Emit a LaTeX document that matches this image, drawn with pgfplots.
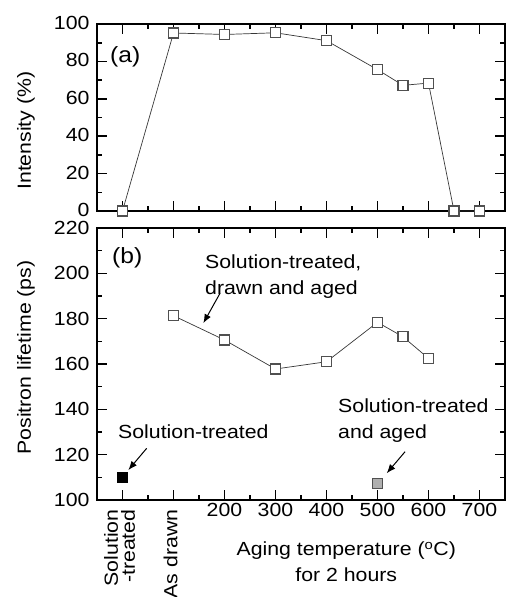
\documentclass[border=0pt]{standalone}
\usepackage{fontspec}
\setmainfont{Liberation Sans}[FakeStretch=1.12]
\usepackage{pgfplots}
\pgfplotsset{compat=1.18}
\usetikzlibrary{arrows.meta}

\definecolor{markgray}{RGB}{80,80,80}
\definecolor{linegray}{RGB}{55,55,55}
\definecolor{agedfill}{RGB}{175,175,175}

\newcommand\figfont{\fontsize{19}{26}\selectfont}

\tikzset{
  note/.style={font=\figfont, inner sep=0pt, anchor=north west, align=left},
  pointer/.style={-{Latex[length=9pt,width=7pt]}, line width=1pt, black},
}

\pgfplotsset{
  panel/.style={
    scale only axis,
    width=408pt,
    xmin=-50, xmax=750,
    tick align=inside,
    major tick length=10pt,
    minor tick length=5pt,
    axis line style={line width=2pt},
    every tick/.style={black, line width=1.6pt},
    minor xtick={50,150,...,650},
    /pgf/number format/assume math mode=true,
    tick label style={font=\figfont},
    yticklabel style={xshift=-4pt},
    label style={font=\figfont},
    clip=false,
  },
  opensq/.style={color=linegray, line width=0.7pt, mark=square*, mark size=5pt,
    mark options={draw=markgray, fill=white, line width=1.1pt}},
}

\begin{document}
\begin{tikzpicture}[font=\figfont]

% (a) intensity panel
\begin{axis}[panel, at={(97pt,-211pt)}, anchor=south west, height=187pt,
  ymin=0, ymax=100, ytick={0,20,...,100}, minor ytick={10,30,...,90},
  xtick={0,100,...,700}, xticklabels={},
  yticklabel style={yshift=1pt},
  ylabel={Intensity (\%)},
  ylabel style={at={(axis description cs:-0.174,0.43)}, anchor=center}]
\addplot[opensq] coordinates {
  (0,0) (100,95.2) (200,94.4) (300,95.3) (400,91.1)
  (500,75.6) (550,67.2) (600,68.4) (650,0) (700,0)};
\node[note, anchor=west, font=\fontsize{22}{26}\selectfont] at (axis cs:-24.5,82.4) {(a)};
\end{axis}

% (b) positron lifetime panel
\begin{axis}[panel, at={(97pt,-500pt)}, anchor=south west, height=272pt,
  ymin=100, ymax=220, ytick={100,120,...,220}, minor ytick={110,130,...,210},
  xtick={200,300,...,700},
  extra x ticks={0,100},
  extra x tick labels={{Solution\\-treated},{As drawn}},
  extra x tick style={tick label style={font=\fontsize{19}{17}\selectfont,
    xshift=-3pt, yshift=-6pt, rotate=90, anchor=east, align=right}},
  ylabel={Positron lifetime (ps)},
  ylabel style={at={(axis description cs:-0.174,0.524)}, anchor=center},
  xlabel={Aging temperature (\textsuperscript{o}C)\\for 2 hours},
  xlabel style={align=center, inner sep=0pt,
    at={(axis description cs:0.611,-0.153)}, anchor=north}]
\addplot[opensq] coordinates {
  (100,181.3) (200,170.6) (300,157.8) (400,161.0)
  (500,178.4) (550,172.0) (600,162.5)};
\addplot[only marks, mark=square*, mark size=5pt,
  mark options={draw=black, fill=black}] coordinates {(0,110.0)};
\addplot[only marks, mark=square*, mark size=5pt,
  mark options={draw=markgray, fill=agedfill, line width=1.1pt}] coordinates {(500,107.4)};

\node[note, anchor=west, font=\fontsize{22}{26}\selectfont] at (axis cs:-20.6,206.8) {(b)};
\node[note] at (axis cs:161.8,208.4) {Solution-treated,\\drawn and aged};
\draw[pointer] (axis cs:191.2,191.2) -- (axis cs:158.5,178.0);
\node[note] at (axis cs:-8.8,133.1) {Solution-treated};
\draw[pointer] (axis cs:47.4,122.8) -- (axis cs:11.4,113.2);
\node[note] at (axis cs:422.6,144.6) {Solution-treated\\and aged};
\draw[pointer] (axis cs:554,121.3) -- (axis cs:518.1,111.8);
\end{axis}

\pgfresetboundingbox
\path[use as bounding box] (0pt,0pt) rectangle (507pt,-597pt);
\end{tikzpicture}
\end{document}
